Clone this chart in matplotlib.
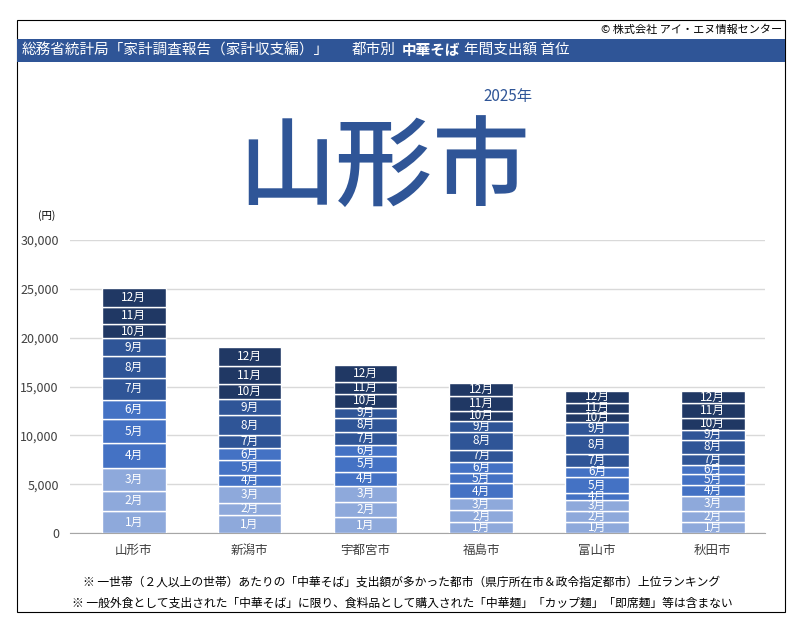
import matplotlib
matplotlib.use("Agg")
import matplotlib.pyplot as plt
from matplotlib.patches import Rectangle
import numpy as np

plt.rcParams['font.family'] = ['Noto Sans CJK JP', 'DejaVu Sans']

cities = ["山形市", "新潟市", "宇都宮市", "福島市", "富山市", "秋田市"]
months = [f"{i}月" for i in range(1, 13)]
# monthly spending (yen), rows = months 1..12, columns = cities
jan = [2260, 1850, 1640, 1090, 1160, 1090]
feb = [2090, 1230, 1540, 1220, 1050, 1190]
mar = [2330, 1780, 1650, 1230, 1160, 1500]
apr = [2500, 1100, 1440, 1530, 680, 1150]
may = [2530, 1470, 1640, 1120, 1730, 1060]
jun = [1950, 1230, 1130, 1120, 1020, 1020]
jul = [2200, 1340, 1270, 1230, 1330, 1120]
aug = [2220, 2050, 1510, 1830, 1900, 1430]
sep = [1850, 1650, 1020, 1090, 1360, 1020]
oct_ = [1440, 1510, 1440, 1060, 920, 1220]
nov = [1810, 1840, 1230, 1490, 1020, 1530]
dec = [1920, 1990, 1720, 1300, 1260, 1160]
monthly = [jan, feb, mar, apr, may, jun, jul, aug, sep, oct_, nov, dec]
colors = ["#8EA9DB"] * 3 + ["#4472C4"] * 3 + ["#2F5597"] * 3 + ["#203864"] * 3

fig = plt.figure(figsize=(8.05, 6.43), dpi=100)
fig.patches.append(Rectangle((17/805, 1-612/643), 768/805, 592/643, transform=fig.transFigure,
                             fill=False, edgecolor="black", linewidth=0.8))
fig.patches.append(Rectangle((17/805, 1-62/643), 768/805, 23/643, transform=fig.transFigure,
                             facecolor="#2F5597", edgecolor="none"))
fig.text(782/805, 1-30/643, "© 株式会社 アイ・エヌ情報センター", ha="right", va="center", fontsize=8)
fig.text(22/805, 1-50/643, "総務省統計局「家計調査報告（家計収支編）」", ha="left", va="center",
         fontsize=10.5, color="white")
fig.text(352/805, 1-50/643, "都市別", ha="left", va="center", fontsize=10.5, color="white")
fig.text(402/805, 1-50/643, "中華そば", ha="left", va="center", fontsize=10.5, color="white", fontweight="bold")
fig.text(464/805, 1-50/643, "年間支出額 首位", ha="left", va="center", fontsize=10.5, color="white")
fig.text(508/805, 1-97/643, "2025年", ha="center", va="center", fontsize=11, color="#2F5597")
fig.text(384/805, 1-170/643, "山形市", ha="center", va="center", fontsize=70, color="#2F5597",
         fontweight="medium")
fig.text(47/805, 1-216/643, "(円)", ha="center", va="center", fontsize=7.5)
fig.text(402/805, 1-582/643, "※ 一世帯（２人以上の世帯）あたりの「中華そば」支出額が多かった都市（県庁所在市＆政令指定都市）上位ランキング",
         ha="center", va="center", fontsize=8.5)
fig.text(402/805, 1-603/643, "※ 一般外食として支出された「中華そば」に限り、食料品として購入された「中華麺」「カップ麺」「即席麺」等は含まない",
         ha="center", va="center", fontsize=8.5)

ax = fig.add_axes([70/805, 1-533/643, 695/805, 293/643])
x = np.arange(len(cities))
bottom = np.zeros(len(cities))
for m, vals, c in zip(months, monthly, colors):
    vals = np.array(vals, dtype=float)
    ax.bar(x, vals, 0.55, bottom=bottom, color=c, edgecolor="white", linewidth=1, zorder=3)
    for xi, b, v in zip(x, bottom, vals):
        ax.text(xi, b + v/2, m, ha="center", va="center", color="white", fontsize=8.5, zorder=4)
    bottom += vals

ax.set_xlim(-0.55, len(cities) - 0.55)
ax.set_ylim(0, 30000)
ax.set_yticks(np.arange(0, 30001, 5000))
ax.set_yticklabels([f"{v:,}" for v in range(0, 30001, 5000)], fontsize=9, color="#404040")
ax.set_xticks(x)
ax.set_xticklabels(cities, fontsize=9, color="#404040")
ax.grid(axis="y", color="#D9D9D9", linewidth=1, zorder=0)
for s in ["top", "right", "left"]:
    ax.spines[s].set_visible(False)
ax.spines["bottom"].set_color("#A6A6A6")
ax.tick_params(length=0, pad=8)

fig.savefig("out.png", dpi=100)
